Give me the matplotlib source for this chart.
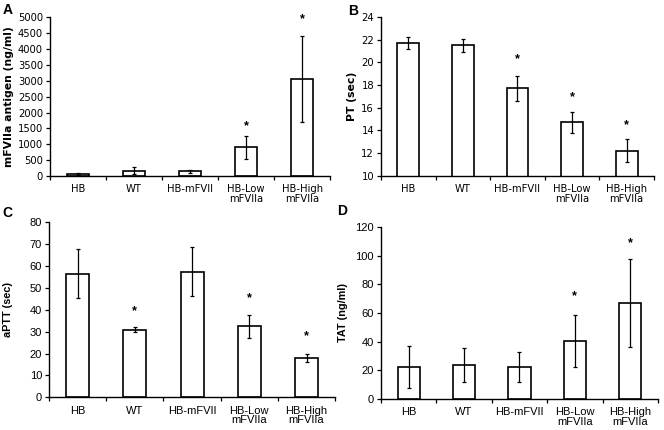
import numpy as np
import matplotlib
matplotlib.use("Agg")
from matplotlib import pyplot as plt
from matplotlib import font_manager

names = {f.name for f in font_manager.fontManager.ttflist}
wide_font = "DejaVu Sans"
tall_font = "Liberation Sans" if "Liberation Sans" in names else "DejaVu Sans"

groups = ["HB", "WT", "HB-mFVII", "HB-Low\nmFVIIa", "HB-High\nmFVIIa"]

# A: mFVIIa antigen
a_mean = [70, 170, 150, 900, 3050]
a_err = [30, 110, 50, 350, 1350]
a_star = [None, None, None, 1580, 4930]

# B: PT
b_mean = [21.7, 21.5, 17.7, 14.7, 12.2]
b_err = [0.5, 0.6, 1.1, 0.9, 1.0]
b_star = [None, None, 20.3, 16.9, 14.5]

# C: aPTT
c_mean = [56.5, 31.0, 57.5, 32.5, 18.0]
c_err = [11.2, 1.0, 11.0, 5.2, 1.8]
c_star = [None, 39.5, None, 45.5, 28.0]

# D: TAT
d_mean = [22.5, 23.5, 22.0, 40.5, 67.0]
d_err = [14.7, 12.0, 10.5, 18.2, 31.0]
d_star = [None, None, None, 72.0, 109.0]

fig = plt.figure(figsize=(6.64, 4.30), dpi=100)


def panel(rect, mean, err, star, ylim, yticks, ylabel, letter, font, fsize,
          lsize, lpad, letter_xy):
    ax = fig.add_axes(rect)
    x = np.arange(len(groups))
    ax.bar(x, mean, width=0.4, color="white", edgecolor="black", linewidth=1.2, zorder=2)
    ax.errorbar(x, mean, yerr=err, fmt="none", ecolor="black", elinewidth=0.9,
                capsize=1.5, capthick=0.9, zorder=3)
    for xi, s in zip(x, star):
        if s is not None:
            ax.text(xi, s, "*", ha="center", va="center", fontsize=9,
                    fontweight="bold", family=tall_font)
    ax.set_xlim(-0.5, len(groups) - 0.5)
    ax.set_ylim(*ylim)
    ax.set_yticks(yticks)
    ax.set_yticklabels([str(t) for t in yticks], family=font, fontsize=fsize)
    ax.set_xticks(x)
    ax.set_xticklabels(groups, family=font, fontsize=fsize, linespacing=0.95)
    ax.tick_params(axis="x", length=0, pad=6)
    ax.set_xticks(np.arange(len(groups) + 1) - 0.5, minor=True)
    ax.tick_params(axis="x", which="minor", length=3, width=0.9, direction="out")
    ax.tick_params(axis="y", length=3, width=0.9, pad=2)
    for side in ["top", "right"]:
        ax.spines[side].set_visible(False)
    for side in ["left", "bottom"]:
        ax.spines[side].set_linewidth(1.0)
    ax.set_ylabel(ylabel, family=font, fontsize=lsize, fontweight="bold", labelpad=lpad)
    fig.text(letter_xy[0], letter_xy[1], letter, family=tall_font, fontsize=10,
             fontweight="bold", ha="left", va="center")
    return ax


panel([0.0753, 0.5907, 0.422, 0.369], a_mean, a_err, a_star, (0, 5000),
      list(range(0, 5001, 500)), "mFVIIa antigen (ng/ml)", "A", wide_font, 7.2, 7.8, 3,
      (0.004, 0.976))
panel([0.5738, 0.5914, 0.411, 0.369], b_mean, b_err, b_star, (10, 24),
      list(range(10, 25, 2)), "PT (sec)", "B", wide_font, 7.2, 7.8, 3, (0.524, 0.974))
panel([0.0738, 0.076, 0.431, 0.407], c_mean, c_err, c_star, (0, 80),
      list(range(0, 81, 10)), "aPTT (sec)", "C", tall_font, 8.0, 7.8, 12, (0.004, 0.505))
panel([0.5738, 0.0728, 0.417, 0.399], d_mean, d_err, d_star, (0, 120),
      list(range(0, 121, 20)), "TAT (ng/ml)", "D", tall_font, 8.0, 7.8, 5, (0.508, 0.510))

fig.savefig("out.png", dpi=100)
